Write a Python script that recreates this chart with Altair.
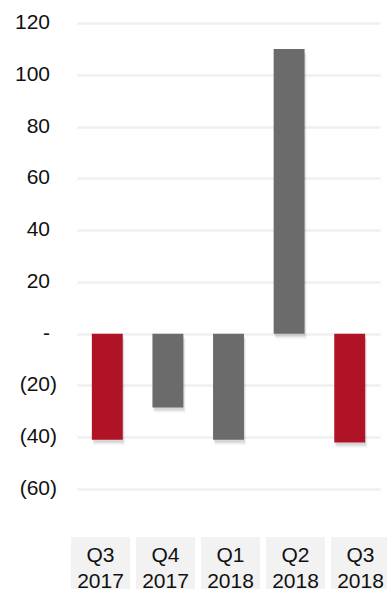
import altair as alt
import pandas as pd

quarters = ["Q3 2017", "Q4 2017", "Q1 2018", "Q2 2018", "Q3 2018"]
values = [-41, -28.5, -41, 110, -42]
highlight = ["yes", "no", "no", "no", "yes"]
y_ticks = [-60, -40, -20, 0, 20, 40, 60, 80, 100, 120]

df = pd.DataFrame({
    "quarter": quarters,
    "value": values,
    "highlight": highlight,
    "label": [q.replace(" ", "\n") for q in quarters],
})
ticks_df = pd.DataFrame({"value": y_ticks})

FONT = "Liberation Sans"
TXT = "#111111"

x_bar = alt.X("quarter:N", sort=quarters, axis=None,
              scale=alt.Scale(paddingInner=0.49, paddingOuter=0.245))
y_enc = alt.Y(
    "value:Q",
    scale=alt.Scale(domain=[-60, 120], nice=False, zero=True),
    axis=alt.Axis(
        values=y_ticks,
        title=None,
        domain=False,
        ticks=False,
        labels=False,
        gridColor="#EFEFEF",
        gridWidth=2.5,
    ),
)

shadow = alt.Chart(df).mark_bar(color="#000000", opacity=0.10, xOffset=1, yOffset=3).encode(
    x=x_bar, y=y_enc
)
shadow2 = alt.Chart(df).mark_bar(color="#000000", opacity=0.06, xOffset=2, yOffset=5).encode(
    x=x_bar, y=alt.Y("value:Q")
)

bars = alt.Chart(df).mark_bar().encode(
    x=x_bar,
    y=alt.Y("value:Q"),
    color=alt.Color("highlight:N",
                    scale=alt.Scale(domain=["yes", "no"], range=["#B01325", "#6B6B6B"]),
                    legend=None),
)

neg_labels = alt.Chart(ticks_df).transform_filter("datum.value < 0").transform_calculate(
    txt="'(' + format(-datum.value, 'd') + ')'"
).mark_text(align="right", baseline="middle", font=FONT, fontSize=21, color=TXT, clip=False).encode(
    x=alt.value(-20), y=alt.Y("value:Q"), text="txt:N"
)
pos_labels = alt.Chart(ticks_df).transform_filter("datum.value >= 0").transform_calculate(
    txt="datum.value == 0 ? '-' : format(datum.value, 'd')"
).mark_text(align="right", baseline="middle", font=FONT, fontSize=21, color=TXT, clip=False).encode(
    x=alt.value(-27), y=alt.Y("value:Q"), text="txt:N"
)

x_lab = alt.X("quarter:N", sort=quarters, axis=None,
              scale=alt.Scale(range=[-9, 316], paddingInner=0.092, paddingOuter=0.046))

boxes = alt.Chart(df).mark_rect(color="#F2F2F2", clip=False).encode(
    x=x_lab,
    y=alt.value(514),
    y2=alt.value(600),
)

texts = alt.Chart(df).mark_text(
    lineBreak="\n", baseline="alphabetic", align="center", lineHeight=26,
    font=FONT, fontSize=21, color=TXT, clip=False,
).encode(
    x=x_lab,
    y=alt.value(539),
    text="label:N",
)

bar_layer = alt.layer(shadow2, shadow, bars, neg_labels, pos_labels)
label_layer = alt.layer(boxes, texts)

chart = alt.layer(bar_layer, label_layer).resolve_scale(x="independent").properties(
    width=303,
    height=466,
    padding={"left": 77, "top": 23, "right": 7, "bottom": 100},
    autosize=alt.AutoSizeParams(type="none"),
    background="#FFFFFF",
).configure_view(stroke=None)

chart.save("out.html", embed_options={"renderer": "svg", "actions": False})
